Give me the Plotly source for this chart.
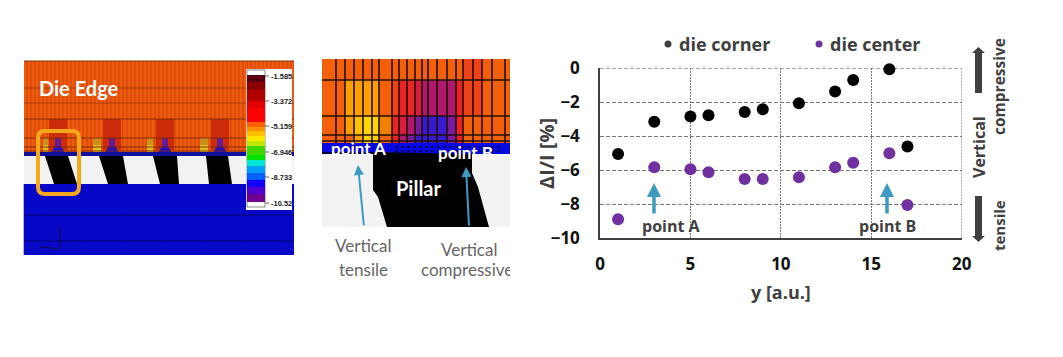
import plotly.graph_objects as go

# ---------- chart data ----------
y_pos = [1, 3, 5, 6, 8, 9, 11, 13, 14, 16, 17]
die_corner = [-5.04, -3.14, -2.84, -2.76, -2.57, -2.41, -2.06, -1.37, -0.69, -0.06, -4.6]
die_center = [-8.88, -5.82, -5.94, -6.12, -6.51, -6.51, -6.41, -5.82, -5.55, -5.0, -8.04]
x_ticks = [0, 5, 10, 15, 20]
y_ticks = [0, -2, -4, -6, -8, -10]
colorbar_labels = ["-1.585", "-3.372", "-5.159", "-6.946", "-8.733", "-10.52"]

W, H = 1063, 357
FONT = "Open Sans"
LATO = "Lato"
DARK = "#404040"
TEAL = "#3d9bc1"
GRID = "#777777"
DOTS = "2px,1px"
DASHES = "4px,2px"


def X(p):
    return p / W


def Y(p):
    return 1 - p / H


shapes = []


def rect(x0, y0, x1, y1, fill, line=None, lw=0, op=1):
    shapes.append(dict(type="rect", xref="paper", yref="paper", x0=X(x0), x1=X(x1), y0=Y(y0), y1=Y(y1),
                       fillcolor=fill, opacity=op, layer="below",
                       line=dict(color=line or fill, width=lw)))


def seg(x0, y0, x1, y1, color, lw=1, op=1, dash="solid"):
    shapes.append(dict(type="line", xref="paper", yref="paper", x0=X(x0), x1=X(x1), y0=Y(y0), y1=Y(y1),
                       opacity=op, layer="below", line=dict(color=color, width=lw, dash=dash)))


def poly(pts, fill):
    d = "M" + " L".join(f"{X(a):.5f},{Y(b):.5f}" for a, b in pts) + " Z"
    shapes.append(dict(type="path", xref="paper", yref="paper", path=d, fillcolor=fill, layer="below",
                       line=dict(width=0)))


# ---------- left simulation panel ----------
rect(24, 61, 294, 153, "#e04e0c")
for i in range(24, 294, 4):
    rect(i, 61, i + 2, 153, "#f0600f", op=0.8)
rect(24, 153, 294, 184, "#f2f2f2")
rect(24, 184, 294, 255, "#0808cc")
for i in range(24, 294, 5):
    seg(i, 184, i, 255, "#0606a8", 1, 0.6)
for yy in (215, 241):
    seg(24, yy, 294, yy, "#04046e", 1)
hot_centers = [58, 112, 165, 220]
warm_blocks = [(43, 48), (93, 101), (147, 153), (200, 208)]
for c in hot_centers:
    rect(c - 9, 119, c + 9, 150, "#cc2c0a")
    rect(c - 3, 138, c + 3, 148, "#6a1a90")
    poly([(c - 3, 146), (c + 3, 146), (c + 7, 153), (c - 7, 153)], "#2410c4")
for a, b in warm_blocks:
    rect(a, 138, b, 145, "#c8901c")
    rect(a, 145, b, 152, "#e0c020")
for yy, lw in ((61, 1), (88, 1), (103, 1), (119, 1), (138, 1), (147, 1), (151, 1)):
    seg(24, yy, 294, yy, "#7a2a08", lw, 0.55 if yy in (88, 103) else 0.9)
rect(24, 152, 294, 156, "#10109a")
for top0, top1, bot1, bot0 in [(45, 68, 77, 54), (99, 123, 128, 108), (153, 177, 179, 160), (206, 228, 232, 209)]:
    poly([(top0, 156), (top1, 156), (bot1, 184), (bot0, 184)], "#000000")
seg(60, 227, 60, 248, "#101040", 1)
seg(40, 247, 60, 249, "#101040", 1)

r = 7
x0, x1, y0, y1 = 38, 79, 131, 194
rounded = (f"M{X(x0 + r):.5f},{Y(y0):.5f} L{X(x1 - r):.5f},{Y(y0):.5f} Q{X(x1):.5f},{Y(y0):.5f} {X(x1):.5f},{Y(y0 + r):.5f} "
           f"L{X(x1):.5f},{Y(y1 - r):.5f} Q{X(x1):.5f},{Y(y1):.5f} {X(x1 - r):.5f},{Y(y1):.5f} "
           f"L{X(x0 + r):.5f},{Y(y1):.5f} Q{X(x0):.5f},{Y(y1):.5f} {X(x0):.5f},{Y(y1 - r):.5f} "
           f"L{X(x0):.5f},{Y(y0 + r):.5f} Q{X(x0):.5f},{Y(y0):.5f} {X(x0 + r):.5f},{Y(y0):.5f} Z")
shapes.append(dict(type="path", xref="paper", yref="paper", path=rounded, layer="below",
                   line=dict(color="#f5a81c", width=4)))

# colour bar of the simulation
rect(246, 69, 292, 210, "#ffffff")
rect(247, 70, 265, 207, "#ffffff", "#888888", 1)
bands = [(75, "#5a0010"), (82, "#8b0000"), (90, "#b00000"), (101, "#e00000"), (108, "#ff0000"), (122, "#ff6000"),
         (127, "#ff9000"), (131, "#ffc000"), (136, "#ffe800"), (141, "#c0e800"), (146, "#40d800"), (155, "#00e000"),
         (160, "#00e8d0"), (166, "#00a0ff"), (173, "#0060ff"), (180, "#1000ff"), (187, "#5000d0"), (194, "#700090"),
         (202, None)]
for (a, col), (b, _) in zip(bands[:-1], bands[1:]):
    rect(247, a, 265, b, col)
label_ys = [76, 101, 126, 152, 177, 203]
for ly in label_ys:
    seg(265, ly, 269, ly, "#666666", 1)

# ---------- middle close-up panel ----------
edges = [322, 336, 345, 354, 363, 372, 379, 392, 399, 407, 415, 422, 428, 437, 447, 456, 463, 473, 482, 492, 505, 510]
rows = [59, 80, 116, 135, 143]
O, Q, R, S, M, P, B, Y_, A = "#f4600a", "#f0421a", "#ea2424", "#d81c40", "#b0186a", "#7a1aa0", "#3a1ad0", "#ffd400", "#ffa000"
cells = [
    [O, O, O, O, O, O, O, O, O, O, O, O, O, O, O, O, Q, Q, O, O, O],
    [O, O, A, A, A, A, O, Q, R, R, S, M, M, M, M, R, Q, Q, O, O, O],
    [O, O, A, "#ffc000", Y_, Y_, "#f08000", R, S, M, P, B, B, B, P, R, O, O, O, O, O],
    [O, O, O, A, Y_, Y_, "#f06000", R, M, P, B, B, B, B, P, R, O, O, O, O, O],
]
for ri, row in enumerate(cells):
    for ci, col in enumerate(row):
        rect(edges[ci], rows[ri], edges[ci + 1], rows[ri + 1], col)
rect(322, 143, 510, 154, "#0808e0")
rect(322, 154, 510, 227, "#f2f2f2")
for e in edges[1:-1]:
    seg(e, 59, e, 143, "#201008", 1.6)
for yy in rows[1:4] + [141]:
    seg(322, yy, 510, yy, "#201008", 1.6)
for yy in (147, 151):
    seg(395, yy, 500, yy, "#000060", 1.5, dash="3px,3px")
poly([(373, 152), (472, 154), (472, 173), (478, 187), (489, 227), (387, 227), (378, 197), (373, 190)], "#000000")
rect(322, 152, 373, 154, "#000040")

# ---------- annotations ----------
ann = []


def txt(x, y, s, size, color, font=LATO, bold=False, angle=0, anchor="center"):
    ann.append(dict(xref="paper", yref="paper", x=X(x), y=Y(y), text=f"<b>{s}</b>" if bold else s, showarrow=False,
                    xanchor=anchor, yanchor="middle", textangle=angle, font=dict(size=size, color=color, family=font)))


def arrow(x, y, ax, ay, color, width, scale=1.0):
    ann.append(dict(xref="paper", yref="paper", x=X(x), y=Y(y), ax=ax - x, ay=ay - y, text="", showarrow=True,
                    arrowhead=2, arrowsize=scale, arrowwidth=width, arrowcolor=color))


txt(37, 88, "Die Edge", 20, "#ffffff", bold=True, anchor="left")
for s, ly in zip(colorbar_labels, label_ys):
    txt(269, ly, s, 7.5, "#222222", font="Liberation Sans", bold=True, anchor="left")
txt(358, 148, "point A", 17, "#ffffff", bold=True)
txt(465, 152, "point B", 17, "#ffffff", bold=True)
txt(419, 188, "Pillar", 20, "#ffffff", bold=True)
txt(363, 245, "Vertical", 17, "#666666")
txt(363, 269, "tensile", 17, "#666666")
txt(469, 249, "Vertical", 17, "#666666")
arrow(358, 165, 364, 227, TEAL, 2)
arrow(466, 167, 469, 227, TEAL, 2)

# chart side notes
ax_c = 978.5
poly([(ax_c - 3.5, 93), (ax_c - 3.5, 53), (ax_c - 6.5, 53), (ax_c, 47), (ax_c + 6.5, 53), (ax_c + 3.5, 53), (ax_c + 3.5, 93)], DARK)
poly([(ax_c - 3.5, 196), (ax_c - 3.5, 236), (ax_c - 6.5, 236), (ax_c, 242), (ax_c + 6.5, 236), (ax_c + 3.5, 236), (ax_c + 3.5, 196)], DARK)
txt(979, 147, "Vertical", 16, DARK, font=FONT, bold=True, angle=-90)
txt(999, 87, "compressive", 15.5, DARK, font=FONT, bold=True, angle=-90)
txt(999, 226, "tensile", 15, DARK, font=FONT, bold=True, angle=-90)
arrow(654, 183, 654, 215, TEAL, 3.5, 0.8)
arrow(887, 183, 887, 215, TEAL, 3.5, 0.8)
txt(671, 226, "point A", 16, DARK, font=FONT, bold=True)
txt(887, 226, "point B", 16, DARK, font=FONT, bold=True)
txt(546, 154, "ΔI/I [%]", 20, DARK, font=FONT, bold=True, angle=-90)
txt(781, 292, "y [a.u.]", 18, DARK, font=FONT, bold=True)

# legend, drawn to sit where the reference has it
for cx, col in ((668, "#404040"), (819, "#7030a0")):
    shapes.append(dict(type="circle", xref="paper", yref="paper", x0=X(cx - 3.5), x1=X(cx + 3.5),
                       y0=Y(44 + 3.5), y1=Y(44 - 3.5), fillcolor=col, line=dict(width=0), layer="below"))
txt(677, 44, "die corner", 18, DARK, font=FONT, bold=True, anchor="left")
txt(828, 44, "die center", 18, DARK, font=FONT, bold=True, anchor="left")

# grid lines at the far edges of the chart
shapes.append(dict(type="line", xref="x", yref="y", x0=0, x1=20, y0=0, y1=0, layer="below",
                   line=dict(color=GRID, width=1, dash=DASHES)))
shapes.append(dict(type="line", xref="x", yref="y", x0=20, x1=20, y0=-10, y1=0, layer="below",
                   line=dict(color=GRID, width=1, dash=DOTS)))

# ---------- chart ----------
fig = go.Figure()
fig.add_trace(go.Scatter(x=y_pos, y=die_corner, mode="markers", name="die corner",
                         marker=dict(color="#000000", size=12), cliponaxis=False))
fig.add_trace(go.Scatter(x=y_pos, y=die_center, mode="markers", name="die center",
                         marker=dict(color="#7030a0", size=12), cliponaxis=False))
# label that the close-up image cuts off at its right edge
fig.add_trace(go.Scatter(x=[421], y=[272], mode="text", text=["compressive"], textposition="middle right",
                         textfont=dict(family=LATO, size=17, color="#666666"), xaxis="x2", yaxis="y2",
                         cliponaxis=True, hoverinfo="skip"))

fig.update_layout(
    width=W, height=H, margin=dict(l=0, r=0, t=0, b=0, autoexpand=False), paper_bgcolor="#ffffff", plot_bgcolor="rgba(0,0,0,0)",
    shapes=shapes, annotations=ann, showlegend=False,
    xaxis=dict(domain=[X(600), X(961.7)], range=[0, 20], tickvals=x_ticks, showgrid=True, gridcolor=GRID, griddash=DOTS,
               gridwidth=1, zeroline=False, showline=True, linecolor=DARK, linewidth=1.5,
               ticks="outside", ticklen=10, tickcolor="rgba(0,0,0,0)",
               tickfont=dict(family=FONT, size=17, color="#111111", weight=700), anchor="y"),
    yaxis=dict(domain=[Y(238.3), Y(68.3)], range=[-10, 0], tickvals=y_ticks, showgrid=True, gridcolor=GRID, griddash=DASHES,
               gridwidth=1, zeroline=False, showline=True, linecolor=DARK, linewidth=1.5,
               ticks="outside", ticklen=15, tickcolor="rgba(0,0,0,0)",
               tickfont=dict(family=FONT, size=17, color="#111111", weight=700), anchor="x"),
    xaxis2=dict(domain=[X(322), X(510)], range=[322, 510], visible=False, anchor="y2"),
    yaxis2=dict(domain=[0, 1], range=[H, 0], visible=False, anchor="x2"),
)
fig.write_html("out.html", config=dict(displayModeBar=False), post_script="document.body.style.margin='0';")
